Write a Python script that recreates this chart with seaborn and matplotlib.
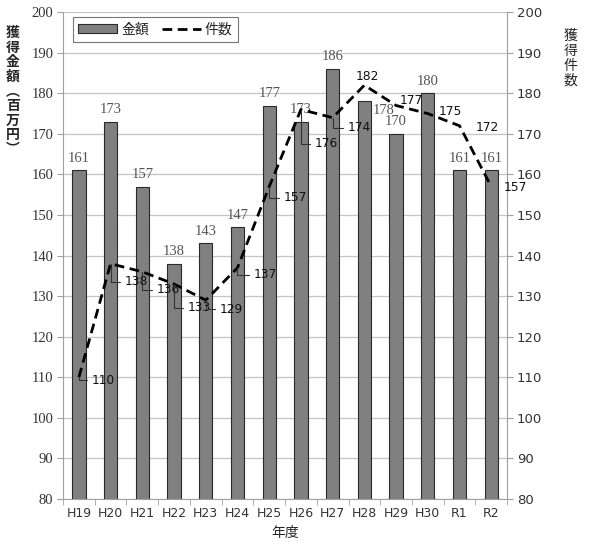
import matplotlib
matplotlib.use("Agg")
import matplotlib.pyplot as plt
import matplotlib.patches as mpatches
import matplotlib.lines as mlines
from matplotlib.ticker import FixedLocator
import pandas as pd
import seaborn as sns

# データ
years = ["H19", "H20", "H21", "H22", "H23", "H24", "H25", "H26", "H27", "H28", "H29", "H30", "R1", "R2"]
amount = [161, 173, 157, 138, 143, 147, 177, 173, 186, 178, 170, 180, 161, 161]
count = [110, 138, 136, 133, 129, 137, 157, 176, 174, 182, 177, 175, 172, 157]

df = pd.DataFrame({"年度": years, "金額": amount, "件数": count})

sns.set_style("white")
plt.rcParams["font.family"] = ["Noto Sans CJK JP", "DejaVu Sans"]

fig = plt.figure(figsize=(5.89, 5.55), dpi=100)
ax = fig.add_axes([0.107, 0.101, 0.754, 0.877])

# 棒グラフ（金額）
sns.barplot(data=df, x="年度", y="金額", color="#808080", width=0.42,
            edgecolor="#2a2a2a", linewidth=0.8, saturation=1, ax=ax, zorder=2)

ax.set_ylim(80, 200)
ax.set_xlim(-0.5, len(years) - 0.5)
ax.set_yticks(range(80, 201, 10))
ax.grid(axis="y", color="#c4c4c4", linewidth=0.9, zorder=0)
ax.set_axisbelow(True)
for s in ["top", "right"]:
    ax.spines[s].set_visible(False)
for s in ["left", "bottom"]:
    ax.spines[s].set_color("#a0a0a0")
ax.tick_params(axis="y", which="both", left=True, length=4, color="#a0a0a0", pad=3)
ax.tick_params(axis="x", which="major", length=0, pad=6)
ax.xaxis.set_minor_locator(FixedLocator([i - 0.5 for i in range(len(years) + 1)]))
ax.tick_params(axis="x", which="minor", bottom=True, length=4, color="#a0a0a0")
for lab in ax.get_yticklabels():
    lab.set_fontfamily("Liberation Serif")
    lab.set_fontsize(10.5)
    lab.set_color("#333333")
for lab in ax.get_xticklabels():
    lab.set_fontfamily("DejaVu Sans")
    lab.set_fontsize(9)
    lab.set_color("#333333")
ax.set_ylabel("")
ax.set_xlabel("年度", fontsize=10, labelpad=4)

# 棒の数値ラベル（H28だけ折れ線を避けて右下へ）
bar_offsets = {9: (14, -11)}
for i, v in enumerate(amount):
    dx, dy = bar_offsets.get(i, (0, 4))
    ax.annotate(f"{v}", (i, v), xytext=(dx, dy), textcoords="offset points",
                ha="center", va="bottom", fontsize=10.5, color="#555555",
                fontfamily="Liberation Serif")

# 折れ線（件数）: 右軸
ax2 = ax.twinx()
ax2.set_position(ax.get_position())
sns.lineplot(x=list(range(len(years))), y=count, ax=ax2, color="black",
             linewidth=2, linestyle=(0, (3.5, 2)), zorder=3)
ax2.set_ylim(80, 200)
ax2.set_yticks(range(80, 201, 10))
for s in ["top", "left", "bottom"]:
    ax2.spines[s].set_visible(False)
ax2.spines["right"].set_color("#a0a0a0")
ax2.tick_params(axis="y", right=True, length=4, color="#a0a0a0", labelsize=9.5,
                labelcolor="#333333", pad=3)
for lab in ax2.get_yticklabels():
    lab.set_fontfamily("DejaVu Sans")

# 件数ラベルの位置（ピクセル単位のずれ）
offsets_px = [(13, -3), (14, -18), (14, -18), (14, -24), (14, -9), (16, -7), (14, -11),
              (14, -34), (15, -10), (-9, 9), (4, 5), (11, 2), (16, -2), (12, -1)]
leader = [True, True, True, True, True, True, True, True, True, False, False, False, False, False]
for i, (v, (dx, dy), ld) in enumerate(zip(count, offsets_px, leader)):
    kw = {}
    if ld:
        kw["arrowprops"] = dict(arrowstyle="-", color="#333333", lw=0.8,
                                shrinkA=1, shrinkB=0,
                                connectionstyle="angle,angleA=0,angleB=90,rad=0")
    ax2.annotate(f"{v}", (i, v), xytext=(dx * 0.72, dy * 0.72), textcoords="offset points",
                 ha="left", va="center", fontsize=8.8, color="#111111",
                 fontfamily="DejaVu Sans", **kw)

# 凡例
h1 = mpatches.Patch(facecolor="#808080", edgecolor="#2a2a2a", linewidth=0.8, label="金額")
h2 = mlines.Line2D([], [], color="black", linewidth=2, linestyle=(0, (3.5, 2)), label="件数")
leg = ax2.legend(handles=[h1, h2], loc="upper left", bbox_to_anchor=(0.022, 0.99),
                 ncol=2, frameon=True, fancybox=False, borderaxespad=0,
                 handlelength=2.8, handleheight=0.6, columnspacing=0.9, handletextpad=0.3,
                 fontsize=10, borderpad=0.4)
leg.get_frame().set_edgecolor("#555555")
leg.get_frame().set_linewidth(0.8)

# 縦書きの軸タイトル
fig.text(0.022, 0.835, "\n".join("獲得金額︵百万円︶"), ha="center", va="center",
         fontsize=10, linespacing=1.05, fontweight="bold")
fig.text(0.968, 0.895, "\n".join("獲得件数"), ha="center", va="center",
         fontsize=10, linespacing=1.1)

fig.savefig("out.png", dpi=100)
